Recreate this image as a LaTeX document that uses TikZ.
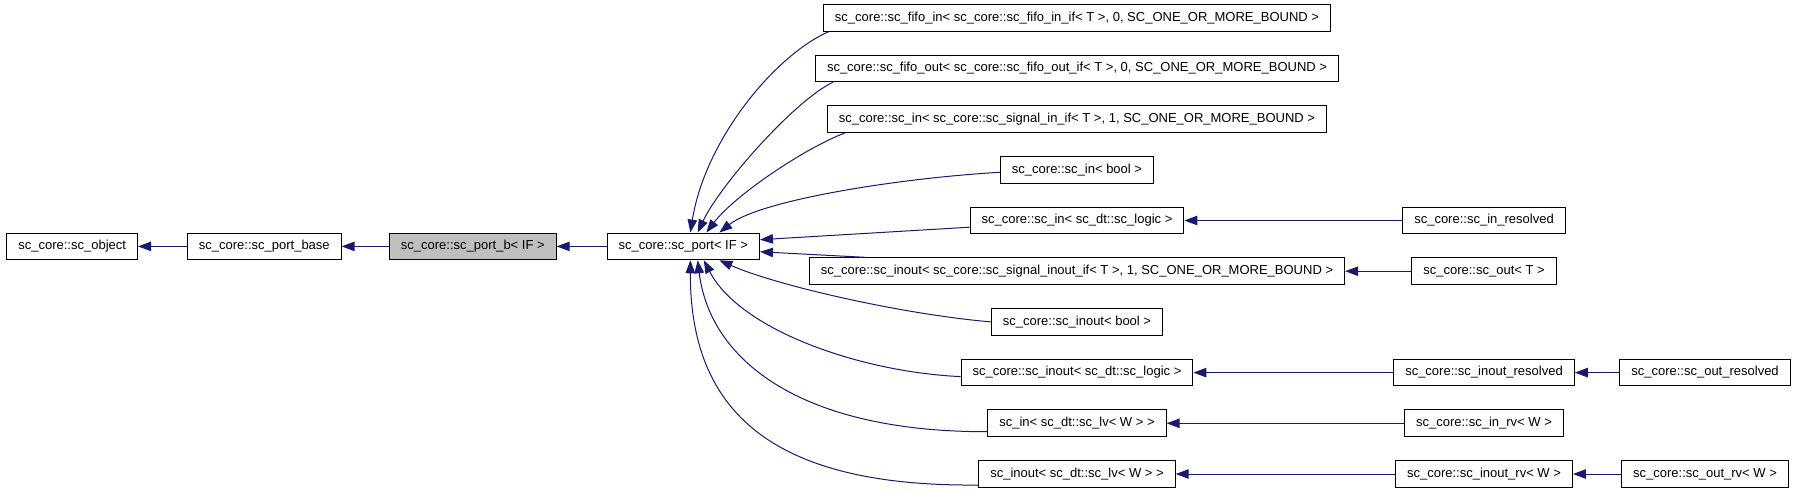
\documentclass[tikz,border=0pt]{standalone}
\usepackage{fontspec}
\setmainfont{Liberation Sans}
\usepackage{xcolor}
\definecolor{doxy_edge}{RGB}{25, 25, 112}
\definecolor{doxy_gray}{RGB}{191, 191, 191}
\usepackage{tikz}
\usetikzlibrary{arrows.meta}

\begin{document}
\begin{tikzpicture}[x=1pt, y=-1pt, font=\fontsize{13}{15}\selectfont,
    box/.style={draw, line width=1pt, fill=white, inner xsep=11.5pt, inner ysep=0pt,
                text height=9.5pt, text depth=2.8pt, minimum height=26.7pt},
    derive/.style={draw=doxy_edge, line width=1pt,
                   -{Triangle[length=13pt, width=9.5pt]}}]
  \useasboundingbox (0,0) rectangle (1795,493);
  % base chain
  \node[box] (obj) at (72.2,246.4) {sc\_core::sc\_object};
  \node[box] (pbase) at (264.3,246.4) {sc\_core::sc\_port\_base};
  \node[box, fill=doxy_gray] (portb) at (472.8,246.4) {sc\_core::sc\_port\_b< IF >};
  \node[box] (port) at (683.3,246.4) {sc\_core::sc\_port< IF >};
  % derived ports
  \node[box] (fin) at (1077,17.7)
    {sc\_core::sc\_fifo\_in< sc\_core::sc\_fifo\_in\_if< T >, 0, SC\_ONE\_OR\_MORE\_BOUND >};
  \node[box] (fout) at (1077,68.4)
    {sc\_core::sc\_fifo\_out< sc\_core::sc\_fifo\_out\_if< T >, 0, SC\_ONE\_OR\_MORE\_BOUND >};
  \node[box] (sigin) at (1077,119.1)
    {sc\_core::sc\_in< sc\_core::sc\_signal\_in\_if< T >, 1, SC\_ONE\_OR\_MORE\_BOUND >};
  \node[box] (sbool) at (1077,169.8) {sc\_core::sc\_in< bool >};
  \node[box] (slogic) at (1077,220.5) {sc\_core::sc\_in< sc\_dt::sc\_logic >};
  \node[box] (sinout) at (1077,271.2)
    {sc\_core::sc\_inout< sc\_core::sc\_signal\_inout\_if< T >, 1, SC\_ONE\_OR\_MORE\_BOUND >};
  \node[box] (ibool) at (1077,321.9) {sc\_core::sc\_inout< bool >};
  \node[box] (ilogic) at (1077,372.6) {sc\_core::sc\_inout< sc\_dt::sc\_logic >};
  \node[box] (inlv) at (1077,423.3) {sc\_in< sc\_dt::sc\_lv< W > >};
  \node[box] (iolv) at (1077,474) {sc\_inout< sc\_dt::sc\_lv< W > >};
  \node[box] (inres) at (1484,220.5) {sc\_core::sc\_in\_resolved};
  \node[box] (outt) at (1484,271.2) {sc\_core::sc\_out< T >};
  \node[box] (iores) at (1484,372.6) {sc\_core::sc\_inout\_resolved};
  \node[box] (inrv) at (1484,423.3) {sc\_core::sc\_in\_rv< W >};
  \node[box] (iorv) at (1484,474) {sc\_core::sc\_inout\_rv< W >};
  \node[box] (outres) at (1705,372.6) {sc\_core::sc\_out\_resolved};
  \node[box] (outrv) at (1705,474) {sc\_core::sc\_out\_rv< W >};
  % inheritance
  \draw[derive] (pbase.west) -- (obj.east);
  \draw[derive] (portb.west) -- (pbase.east);
  \draw[derive] (port.west) -- (portb.east);
  \draw[derive] ([xshift=6pt]fin.south west) .. controls (775,55) and (705,140) .. (port.63);
  \draw[derive] ([xshift=18pt]fout.south west) .. controls (795,100) and (720,185) .. (port.44);
  \draw[derive] ([xshift=18pt]sigin.south west) .. controls (805,148) and (735,195) .. (port.31);
  \draw[derive] ([yshift=-2.5pt]sbool.west) .. controls (900,178) and (760,200) .. (port.21);
  \draw[derive] ([yshift=-6.7pt]slogic.west) -- (port.5);
  \draw[derive] ([xshift=57pt]sinout.north west) -- (port.-4);
  \draw[derive] (ibool.west) .. controls (900,314) and (775,285) .. (port.-21);
  \draw[derive] ([yshift=-4pt]ilogic.west) .. controls (860,372) and (740,330) .. (port.-34);
  \draw[derive] ([yshift=-8.4pt]inlv.west) .. controls (800,432) and (710,360) .. (port.-44);
  \draw[derive] ([yshift=-11pt]iolv.west) .. controls (770,487) and (690,410) .. (port.-63);
  \draw[derive] (inres.west) -- (slogic.east);
  \draw[derive] (outt.west) -- (sinout.east);
  \draw[derive] (iores.west) -- (ilogic.east);
  \draw[derive] (outres.west) -- (iores.east);
  \draw[derive] (inrv.west) -- (inlv.east);
  \draw[derive] (iorv.west) -- (iolv.east);
  \draw[derive] (outrv.west) -- (iorv.east);
\end{tikzpicture}
\end{document}
